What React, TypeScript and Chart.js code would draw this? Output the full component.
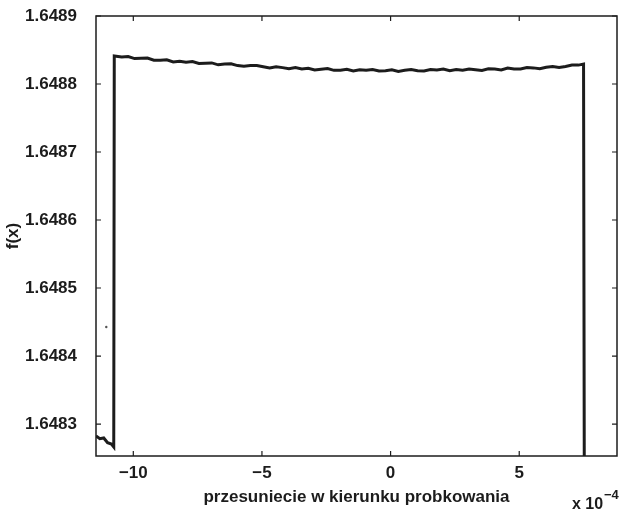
import React, { useEffect, useRef } from "react";
import { Chart, registerables } from "chart.js";

Chart.register(...registerables);

// x values are in units of 1e-4
const lowX = [-11.45, -11.3, -11.15, -11.0, -10.85, -10.76];
const lowY = [1.6482826, 1.6482785, 1.6482795, 1.6482725, 1.6482705, 1.6482662];

const topX = [
  -10.74, -10.45, -10.2, -9.95, -9.7, -9.45, -9.2, -8.95, -8.7, -8.45, -8.2, -7.95, -7.7, -7.45, -7.2,
  -6.95, -6.7, -6.45, -6.2, -5.95, -5.7, -5.45, -5.2, -4.95, -4.7, -4.45, -4.2, -3.95, -3.7, -3.45,
  -3.2, -2.95, -2.7, -2.45, -2.2, -1.95, -1.7, -1.45, -1.2, -0.95, -0.7, -0.45, -0.2, 0.05, 0.3,
  0.55, 0.8, 1.05, 1.3, 1.55, 1.8, 2.05, 2.3, 2.55, 2.8, 3.05, 3.3, 3.55, 3.8, 4.05, 4.3, 4.55, 4.8,
  5.05, 5.3, 5.55, 5.8, 6.05, 6.3, 6.55, 6.8, 7.05, 7.3, 7.5,
];
const topY = [
  1.6488412, 1.6488397, 1.6488405, 1.6488374, 1.648838, 1.6488383, 1.6488351, 1.648835, 1.6488355,
  1.6488323, 1.6488336, 1.6488319, 1.6488329, 1.6488302, 1.6488305, 1.648831, 1.6488282, 1.6488294,
  1.6488296, 1.6488271, 1.648826, 1.6488271, 1.6488271, 1.6488253, 1.6488236, 1.6488253, 1.6488241,
  1.6488223, 1.6488243, 1.6488222, 1.648823, 1.6488207, 1.6488217, 1.6488227, 1.6488201, 1.6488203,
  1.6488216, 1.6488192, 1.6488209, 1.6488201, 1.6488214, 1.6488192, 1.6488196, 1.6488209, 1.6488186,
  1.6488203, 1.6488213, 1.6488196, 1.6488192, 1.6488212, 1.6488205, 1.6488219, 1.6488197, 1.6488213,
  1.6488203, 1.6488222, 1.648821, 1.64882, 1.6488223, 1.6488219, 1.6488207, 1.6488236, 1.648822,
  1.648822, 1.6488242, 1.6488237, 1.6488224, 1.6488247, 1.6488258, 1.6488243, 1.6488258, 1.6488279,
  1.6488278, 1.6488294,
];
const dropX = [7.53];
const dropY = [1.6482];

const strayX = [-11.05];
const strayY = [1.6484426];

const xTicks = [-10, -5, 0, 5];
const yTicks = [1.6483, 1.6484, 1.6485, 1.6486, 1.6487, 1.6488, 1.6489];
const xTitle = "przesuniecie w kierunku probkowania";
const yTitle = "f(x)";
const xMin = -11.45;
const xMax = 8.8;
const yMin = 1.648253;
const yMax = 1.6489;

const FONT = "'Liberation Sans', Arial, Helvetica, sans-serif";
const INK = "#1c1c1c";

const framePlugin = {
  id: "frame",
  afterDraw(chart: any) {
    const { ctx, chartArea: a, scales } = chart;
    ctx.save();
    ctx.strokeStyle = INK;
    ctx.lineWidth = 1.5;
    ctx.strokeRect(a.left, a.top, a.right - a.left, a.bottom - a.top);
    ctx.lineWidth = 1.2;
    const tl = 5;
    ctx.beginPath();
    for (const v of xTicks) {
      const px = scales.x.getPixelForValue(v);
      ctx.moveTo(px, a.bottom);
      ctx.lineTo(px, a.bottom - tl);
      ctx.moveTo(px, a.top);
      ctx.lineTo(px, a.top + tl);
    }
    for (const v of yTicks) {
      const py = scales.y.getPixelForValue(v);
      ctx.moveTo(a.left, py);
      ctx.lineTo(a.left + tl, py);
      ctx.moveTo(a.right, py);
      ctx.lineTo(a.right - tl, py);
    }
    ctx.stroke();
    // exponent label
    ctx.fillStyle = INK;
    ctx.textBaseline = "alphabetic";
    ctx.textAlign = "left";
    ctx.font = `bold 16px ${FONT}`;
    ctx.fillText("x 10", a.right - 45, 509);
    ctx.font = `bold 13px ${FONT}`;
    ctx.fillText("\u22124", a.right - 13, 499);
    ctx.restore();
  },
};

export default function App() {
  const ref = useRef<HTMLCanvasElement>(null);
  useEffect(() => {
    if (!ref.current) return;
    const mainData = [
      ...lowX.map((x, i) => ({ x, y: lowY[i] })),
      ...topX.map((x, i) => ({ x, y: topY[i] })),
      ...dropX.map((x, i) => ({ x, y: dropY[i] })),
    ];
    const chart = new Chart(ref.current, {
      type: "scatter",
      data: {
        datasets: [
          {
            data: mainData,
            showLine: true,
            borderColor: INK,
            borderWidth: 3,
            pointRadius: 0,
            tension: 0,
          },
          {
            data: strayX.map((x, i) => ({ x, y: strayY[i] })),
            showLine: false,
            pointRadius: 1.2,
            backgroundColor: "#555",
            borderWidth: 0,
          },
        ],
      },
      plugins: [framePlugin],
      options: {
        animation: false,
        responsive: false,
        devicePixelRatio: 1,
        layout: { padding: { top: 16, right: 5, left: 0, bottom: 0 } },
        plugins: { legend: { display: false }, tooltip: { enabled: false } },
        scales: {
          x: {
            type: "linear",
            min: xMin,
            max: xMax,
            grid: { display: false },
            border: { display: false },
            afterBuildTicks: (s: any) => {
              s.ticks = xTicks.map((v) => ({ value: v }));
            },
            afterFit: (s: any) => {
              s.height = 54;
              s.paddingLeft = 0;
              s.paddingRight = 0;
            },
            ticks: {
              padding: -1,
              color: INK,
              font: { family: FONT, size: 17, weight: "bold" },
              maxRotation: 0,
              callback: (v: any) => (v < 0 ? "\u2212" + Math.abs(v) : String(v)),
            },
            title: {
              display: true,
              text: xTitle,
              color: INK,
              font: { family: FONT, size: 17, weight: "bold" },
              padding: { top: 0, bottom: 2 },
            },
          },
          y: {
            type: "linear",
            min: yMin,
            max: yMax,
            grid: { display: false },
            border: { display: false },
            afterBuildTicks: (s: any) => {
              s.ticks = yTicks.map((v) => ({ value: v }));
            },
            afterFit: (s: any) => {
              s.width = 96;
              s.paddingTop = 0;
              s.paddingBottom = 0;
            },
            ticks: {
              padding: 11,
              color: INK,
              font: { family: FONT, size: 17, weight: "bold" },
              callback: (v: any) => Number(v).toFixed(4),
            },
            title: {
              display: true,
              text: yTitle,
              color: INK,
              font: { family: FONT, size: 17, weight: "bold" },
              padding: { top: 3, bottom: 0 },
            },
          },
        },
      },
    });
    return () => chart.destroy();
  }, []);
  return (
    <div style={{ position: "absolute", left: 0, top: 0, width: 622, height: 510, background: "#fff" }}>
      <canvas ref={ref} width={622} height={510} style={{ width: 622, height: 510, display: "block" }} />
    </div>
  );
}
